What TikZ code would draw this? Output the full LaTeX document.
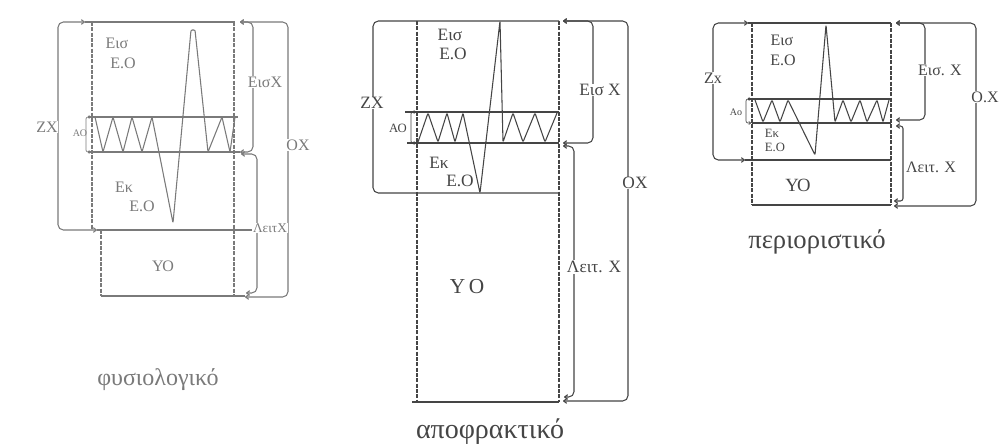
\documentclass[tikz,border=0pt]{standalone}
\usepackage{fontspec}
\setmainfont{Liberation Serif}
\usetikzlibrary{arrows.meta}
\definecolor{inkA}{HTML}{7A7A7A}
\definecolor{inkB}{HTML}{454545}
\begin{document}
\begin{tikzpicture}[x=0.75pt,y=-0.75pt,
  >={To[length=3pt,width=4pt]},
  ln/.style={line width=0.8pt},
  boxv/.style={line width=0.8pt, dash pattern=on 3pt off 1pt},
  brk/.style={line width=0.8pt, rounded corners=4pt, <->},
  brks/.style={line width=0.8pt, rounded corners=2pt, <->},
  mini/.style={line width=0.5pt, rounded corners=1.5pt, <->, >={To[length=1.8pt,width=2.5pt]}},
  wave/.style={line width=0.8pt, line join=round, rounded corners=0.8pt},
  lab/.style={font=\fontsize{12}{12}\selectfont, inner sep=0.5pt},
  labm/.style={font=\fontsize{13}{13}\selectfont, inner sep=0.5pt},
  labs/.style={font=\fontsize{9.5}{9.5}\selectfont, inner sep=0.5pt},
  tiny/.style={font=\fontsize{7.5}{7.5}\selectfont, inner sep=0.3pt},
  cut/.style={lab, fill=white},
  cutm/.style={labm, fill=white},
  cap/.style={font=\fontsize{#1}{#1}\selectfont}
]
\useasboundingbox[fill=white] (0,0) rectangle (999,446);

% ================= left: normal =================
\begin{scope}[color=inkA]
\draw[ln] (85,22) -- (235,22);
\draw[boxv] (92,22) -- (92,230);
\draw[boxv] (101,230) -- (101,296);
\draw[boxv] (234,22) -- (234,296);
\draw[ln] (88,117) -- (238,117);
\draw[ln] (88,152) -- (240,152);
\draw[ln] (97,230) -- (263,230);
\draw[ln] (101,296) -- (245,296);
\draw[brk] (85,22) -- (58,22) -- (58,230) -- (97,230);
\draw[mini] (91,117) -| (86,134.5) |- (91,152);
\draw[brk] (240,22) -- (253,22) -- (253,152) -- (240,152);
\draw[brk] (240,22) -- (288,22) -- (288,297) -- (245,297);
\draw[brk] (241,154) -- (257,154) -- (257,293) -- (246,293);
\draw[wave] (95,117) -- (103,152) -- (113,117) -- (123,152) -- (132,117) -- (142,152)
  -- (152,117) -- (173,223) -- (191,30) -- (195,30) -- (208,152) -- (222,117) -- (230,152) -- (235,117);
\node[lab] (Lirv1) at (117,43) {Εισ};
\node[lab] (Lirv2) at (123,63) {Ε.Ο};
\node[lab] (Lerv1) at (124,187) {Εκ};
\node[lab] (Lerv2) at (142,206) {Ε.Ο};
\node[lab] (Lrv) at (163,266) {ΥΟ};
\node[cut] (Lzx) at (47,127) {ΖΧ};
\node[tiny] (Lao) at (80,133) {ΑΟ};
\node[cut] (Lic) at (265,82) {ΕισΧ};
\node[cut] (Ltlc) at (298,145) {ΟΧ};
\node[cut,font=\fontsize{10}{10}\selectfont] (Lfrc) at (270,228) {ΛειτΧ};
\node[cap=18] (Lcap) at (158,380) {φυσιολογικό};
\end{scope}

% ================= middle: obstructive =================
\begin{scope}[color=inkB]
\draw[ln, rounded corners=4pt] (559,21) -- (373,21) -- (373,193) -- (559,193);
\draw[boxv] (417,21) -- (417,402);
\draw[boxv] (559,21) -- (559,402);
\draw[ln] (412,402) -- (559,402);
\draw[ln] (405,112) -- (559,112);
\draw[ln] (407,143) -- (559,143);
\draw[mini] (416,112) -| (411,127.5) |- (416,143);
\draw[brk] (563,21) -- (593,21) -- (593,143) -- (563,143);
\draw[brk] (563,21) -- (628,21) -- (628,401) -- (563,401);
\draw[brk] (563,146) -- (574,146) -- (574,397) -- (564,397);
\draw[wave] (418,142) -- (428,113) -- (438,142) -- (447,113) -- (455,142) -- (463,113)
  -- (480,193) -- (500,21) -- (503,142) -- (513,113) -- (523,142) -- (535,113) -- (545,142) -- (557,113);
\node[labm] (Mirv1) at (450,35) {Εισ};
\node[labm] (Mirv2) at (453,54) {Ε.Ο};
\node[labm] (Merv1) at (439,163) {Εκ};
\node[labm] (Merv2) at (460,181) {Ε.Ο};
\node[font=\fontsize{16}{16}\selectfont] (Mrv) at (467,287) {Υ\,Ο};
\node[cutm] (Mzx) at (372,103) {ΖΧ};
\node[labs] (Mao) at (398,128) {ΑΟ};
\node[cutm] (Mic) at (600,90) {Εισ Χ};
\node[cutm] (Mtlc) at (635,183) {ΟΧ};
\node[cutm] (Mfrc) at (594,267) {Λειτ. Χ};
\node[cap=21] (Mcap) at (490,432) {αποφρακτικό};
\end{scope}

% ================= right: restrictive =================
\begin{scope}[color=inkB]
\draw[ln] (748,23) -- (891,23);
\draw[ln] (745,160) -- (891,160);
\draw[brk] (748,23) -- (713,23) -- (713,160) -- (745,160);
\draw[boxv] (752,23) -- (752,205);
\draw[boxv] (891,23) -- (891,205);
\draw[ln] (752,205) -- (891,205);
\draw[ln] (748,99) -- (891,99);
\draw[ln] (752,123) -- (891,123);
\draw[mini] (751,99) -| (746,111) |- (751,123);
\draw[brk] (896,23) -- (925,23) -- (925,120) -- (896,120);
\draw[brk] (896,23) -- (976,23) -- (976,206) -- (894,206);
\draw[brks] (896,126) -- (903,126) -- (903,201) -- (894,201);
\draw[wave] (755,100) -- (763,122) -- (772,100) -- (780,122) -- (788,100) -- (815,155)
  -- (826,25) -- (835,122) -- (843,100) -- (851,122) -- (860,100) -- (867,122) -- (877,100) -- (883,122) -- (889,100);
\node[lab] (Rirv1) at (782,40) {Εισ};
\node[lab] (Rirv2) at (783,60) {Ε.Ο};
\node[labs] (Rerv1) at (772,133) {Εκ};
\node[labs] (Rerv2) at (775,147) {Ε.Ο};
\node[font=\fontsize{14}{14}\selectfont] (Rrv) at (798,185) {ΥΟ};
\node[cut] (Rzx) at (713,78) {Ζx};
\node[tiny] (Rao) at (736,112) {Αο};
\node[cut] (Ric) at (940,70) {Εισ. Χ};
\node[cut] (Rtlc) at (985,97) {Ο.Χ};
\node[cut] (Rfrc) at (931,167) {Λειτ. Χ};
\node[cap=20] (Rcap) at (817,242) {περιοριστικό};
\end{scope}
\end{tikzpicture}
\end{document}
